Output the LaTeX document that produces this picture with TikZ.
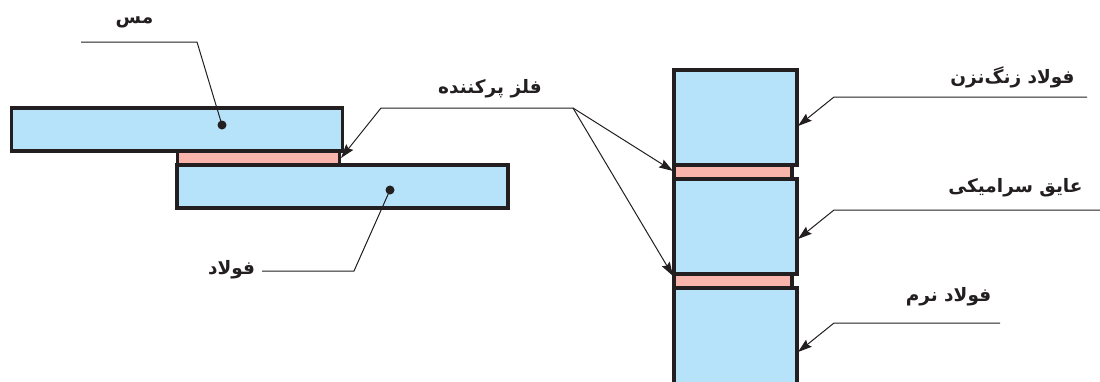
\documentclass[tikz,border=0pt]{standalone}
\usepackage{fontspec}
\usetikzlibrary{arrows.meta}
\TeXXeTstate=1
\newfontfamily\arabicfont[Script=Arabic]{DejaVu Sans}
\definecolor{steelblue}{HTML}{B6E3F9}
\definecolor{fillerpink}{HTML}{F9B4AB}
\definecolor{inkline}{HTML}{231F20}
\tikzset{
  plate/.style={draw=inkline,line width=3.2pt,fill=steelblue,inner sep=0pt,outer sep=0pt,minimum width=#1},
  filler/.style={draw=inkline,line width=3.2pt,fill=fillerpink,inner sep=0pt,outer sep=0pt,minimum width=#1},
  leader/.style={draw=inkline,line width=1pt},
  pointer/.style={leader,-{Stealth[length=14pt,width=9pt,inset=2pt]}},
  spot/.style={circle,fill=inkline,inner sep=0pt,minimum size=9pt},
  tag/.style={font=\arabicfont\bfseries\fontsize{18.5}{22}\selectfont,inner sep=0pt,text=inkline}
}
\begin{document}
\begin{tikzpicture}[x=1pt,y=-1pt]
\clip (0,0) rectangle (1100,381);
\fill[white] (0,0) rectangle (1100,381);
% left joint
\node[filler=162pt,minimum height=14pt] (lf) at (258.5,158.5) {};
\node[plate=331pt,minimum height=43pt] (lt) at (177,129.5) {};
\node[plate=331pt,minimum height=43pt] (lb) at (342.5,186.5) {};
\node[spot] (dt) at (222,125) {};
\node[spot] (db) at (390,190) {};
% right stack
\node[filler=118pt,minimum height=14pt] (rf1) at (733,172) {};
\node[filler=118pt,minimum height=14pt] (rf2) at (733,281) {};
\node[plate=123pt,minimum height=95pt] (r1) at (735.5,117.5) {};
\node[plate=123pt,minimum height=95pt] (r2) at (735.5,226.5) {};
\node[plate=123pt,minimum height=120pt] (r3) at (735.5,348) {};
% labels
\node[tag] (tmes) at (134.5,22) {\beginR مس\endR};
\node[tag] (tfoolad) at (231.5,270) {\beginR فولاد\endR};
\node[tag] (tfill) at (490,89) {\beginR فلز پرکننده\endR};
\node[tag] (tstain) at (1012.5,77) {\beginR فولاد زنگ‌نزن\endR};
\node[tag] (tcer) at (1015.5,188) {\beginR عایق سرامیکی\endR};
\node[tag] (tmild) at (948.5,297) {\beginR فولاد نرم\endR};
% leader geometry
\coordinate (m0) at (81,42);
\coordinate (m1) at (197,42);
\coordinate (f0) at (262,271);
\coordinate (f1) at (354,271);
\coordinate (p0) at (573,108);
\coordinate (p1) at (381,108);
\coordinate (a0) at (341,158);
\coordinate (a1) at (673,171);
\coordinate (a2) at (673,276);
\coordinate (s0) at (1087,97);
\coordinate (s1) at (834,97);
\coordinate (s2) at (798,126);
\coordinate (c0) at (1100,210);
\coordinate (c1) at (834,210);
\coordinate (c2) at (798,239);
\coordinate (n0) at (1000,323);
\coordinate (n1) at (834,323);
\coordinate (n2) at (798,352);
\draw[leader] (m0) -- (m1) -- (dt.center);
\draw[leader] (f0) -- (f1) -- (db.center);
\draw[pointer] (p0) -- (p1) -- (a0);
\draw[pointer] (p0) -- (a1);
\draw[pointer] (p0) -- (a2);
\draw[pointer] (s0) -- (s1) -- (s2);
\draw[pointer] (c0) -- (c1) -- (c2);
\draw[pointer] (n0) -- (n1) -- (n2);
\end{tikzpicture}
\end{document}
